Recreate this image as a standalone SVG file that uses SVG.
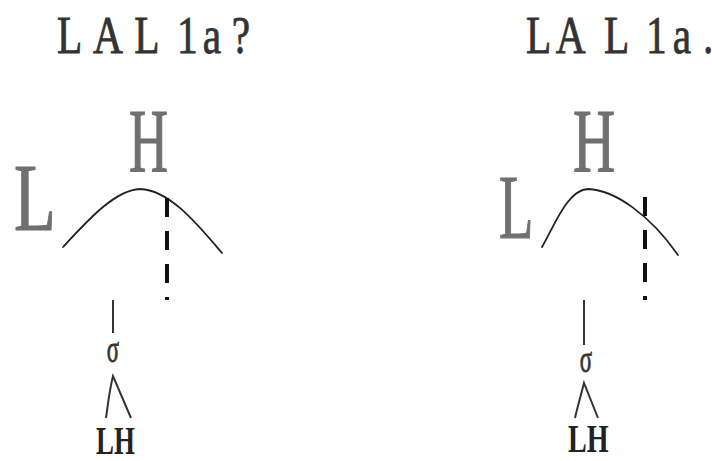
<svg xmlns="http://www.w3.org/2000/svg" width="712" height="461" viewBox="0 0 712 461">
<style>
.title{font-family:"Liberation Serif",serif;font-size:53px;fill:#333;stroke:#333;stroke-width:0.8}
.big{font-family:"Liberation Serif",serif;fill:#707070;stroke:#707070;stroke-width:1.2}
.lh{font-family:"Liberation Serif",serif;font-size:39px;font-weight:bold;fill:#222}
.sig{font-family:"Liberation Serif",serif;font-size:38px;fill:#333;stroke:#333;stroke-width:0.8;text-anchor:middle}
.curve{fill:none;stroke:#222;stroke-width:1.8;stroke-linecap:round}
.dash{fill:none;stroke:#111;stroke-width:4;stroke-dasharray:19 14}
.stem{fill:none;stroke:#333;stroke-width:2}
</style>
<rect width="712" height="461" fill="#fff"/>
<g id="left">
  <g id="title-left"><text class="title" transform="translate(57,53) scale(0.78,1)"><tspan x="0">L</tspan><tspan x="46">A</tspan><tspan x="99">L</tspan><tspan x="154">1</tspan><tspan x="187">a</tspan><tspan x="224">?</tspan></text></g>
  <g id="H-left"><text class="big" font-size="90" transform="translate(129,172) scale(0.6,1)">H</text></g>
  <g id="L-left"><text class="big" font-size="95" transform="translate(14,230) scale(0.72,1)">L</text></g>
  <g id="sigma-left"><text class="sig" transform="translate(113,362) scale(0.6,1)">σ</text></g>
  <g id="LH-left"><text class="lh" transform="translate(96,454) scale(0.69,1)">LH</text></g>
</g>
<g id="right">
  <g id="title-right"><text class="title" transform="translate(526,53) scale(0.78,1)"><tspan x="0">L</tspan><tspan x="38">A</tspan><tspan x="100">L</tspan><tspan x="154">1</tspan><tspan x="188">a</tspan><tspan x="227">.</tspan></text></g>
  <g id="H-right"><text class="big" font-size="90" transform="translate(573,172) scale(0.65,1)">H</text></g>
  <g id="L-right"><text class="big" font-size="91" transform="translate(499,238) scale(0.62,1)">L</text></g>
  <g id="sigma-right"><text class="sig" transform="translate(586,372) scale(0.6,1)">σ</text></g>
  <g id="LH-right"><text class="lh" transform="translate(568,452) scale(0.72,1)">LH</text></g>
</g>
<g id="connectors">
  <path class="curve" d="M63,247 C88,220 115,190 140,189 C170,190 198,225 222,253"/>
  <path class="dash" d="M167,198 V300"/>
  <path class="stem" d="M113,300 V333"/>
  <path class="stem" d="M106,418 C108,405 109,392 113,376 L131,418"/>
  <path class="curve" d="M542,247 C556,222 568,190 588,189 C615,190 650,215 678,255"/>
  <path class="dash" d="M645,197 V300"/>
  <path class="stem" d="M584,300 V345"/>
  <path class="stem" d="M575,418 C578,405 581,395 584,383 L598,418"/>
</g>
</svg>
